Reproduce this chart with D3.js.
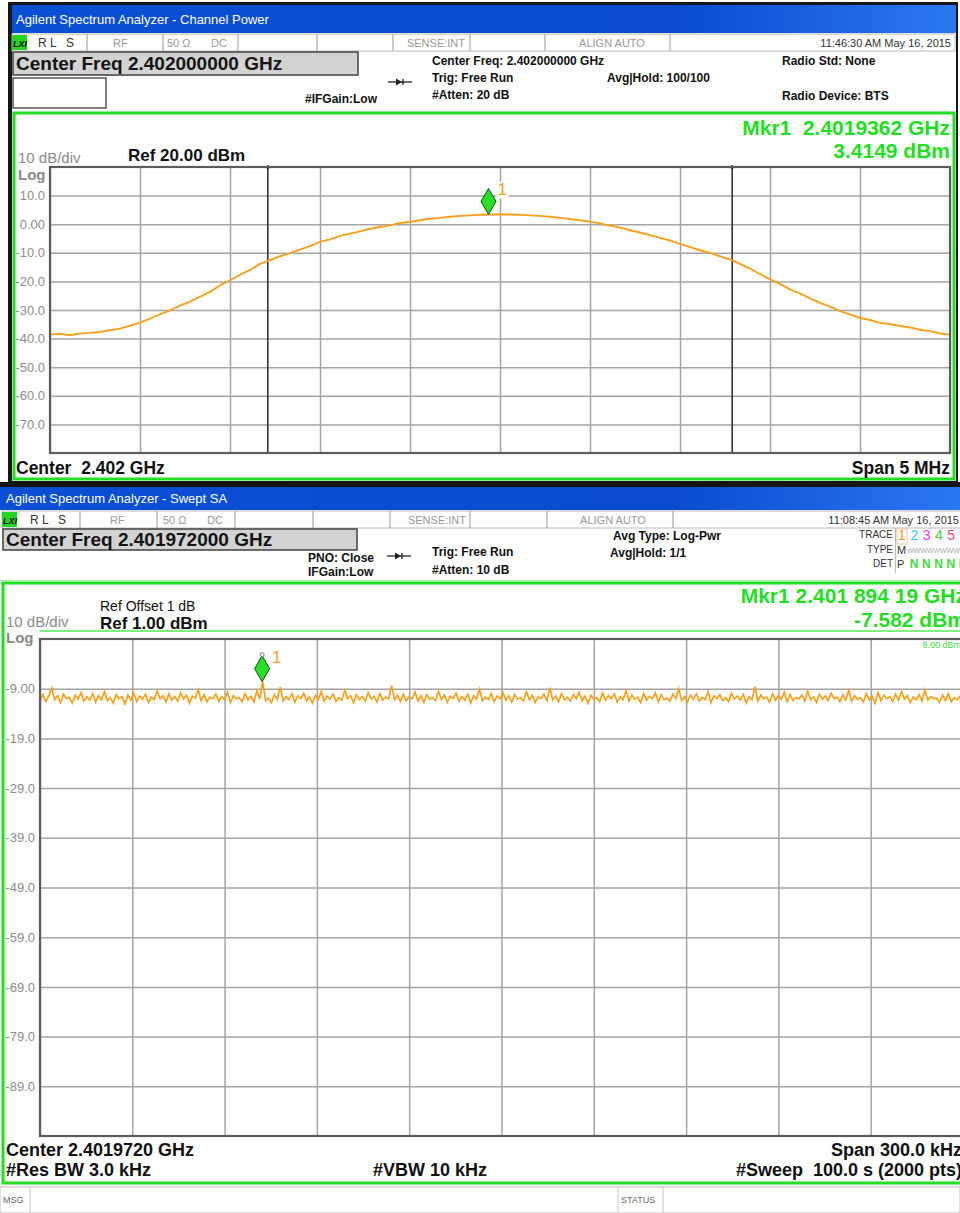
<!DOCTYPE html>
<html><head><meta charset="utf-8">
<script src="https://cdn.jsdelivr.net/npm/d3@7"></script>
<style>
body{margin:0;background:#fff}
svg{display:block}
text{font-family:"Liberation Sans",Arial,sans-serif;white-space:pre}
</style>
</head><body>
<svg id="c" width="960" height="1213"></svg>
<script>
// ---------- Channel Power screen ----------
const cpTitle = "Agilent Spectrum Analyzer - Channel Power";
const cpTime = "11:46:30 AM May 16, 2015";
const cpCenterGHz = 2.402;
const cpSpanMHz = 5;
const cpRange = [-80, 20];                 // dBm, bottom .. Ref
const cpYTicks = [10, 0, -10, -20, -30, -40, -50, -60, -70];
const cpYTickLabels = ["10.0","0.00","-10.0","-20.0","-30.0","-40.0","-50.0","-60.0","-70.0"];
const cpIntegBwMHz = 2.58;
const cpTrace = [
 -38.6,-38.3,-38.8,-38.2,-38.0,-37.7,-37.1,-36.5,-35.5,-34.4,
 -33.0,-31.5,-30.1,-28.5,-27.1,-25.3,-23.7,-21.4,-19.6,-17.7,
 -16.0,-13.9,-12.6,-11.2,-10.1,-8.9,-7.7,-6.2,-5.3,-4.1,
 -3.3,-2.5,-1.6,-1.0,-0.4,0.4,0.8,1.4,1.9,2.2,
 2.6,2.9,3.1,3.3,3.4,3.5,3.4,3.3,3.1,2.9,
 2.6,2.2,1.8,1.4,0.9,0.3,-0.5,-1.2,-2.1,-2.9,
 -3.8,-4.8,-5.7,-6.9,-8.0,-9.1,-10.0,-11.2,-12.3,-13.9,
 -15.5,-17.4,-19.3,-20.9,-22.8,-24.2,-25.9,-27.5,-28.8,-30.4,
 -31.5,-32.8,-33.5,-34.5,-34.9,-35.6,-36.1,-36.9,-37.4,-38.2,
 -38.6];
const cpMarkerGHz = 2.4019362;
const cpMarkerDbm = 3.4149;

// ---------- Swept SA screen ----------
const saTitle = "Agilent Spectrum Analyzer - Swept SA";
const saTime = "11:08:45 AM May 16, 2015";
const saCenterGHz = 2.401972;
const saSpanKHz = 300;
const saRange = [-99, 1];
const saYTicks = [-9, -19, -29, -39, -49, -59, -69, -79, -89];
const saYTickLabels = ["-9.00","-19.0","-29.0","-39.0","-49.0","-59.0","-69.0","-79.0","-89.0"];
const saTrace = [
 -11.3,-10.2,-11.6,-10.5,-8.9,-11.2,-10.4,-11.8,-10.1,-11.0,-10.7,-11.9,-10.3,-11.1,-9.8,-11.5,-10.6,-11.3,-10.0,-11.7,
 -10.4,-11.2,-9.6,-11.4,-10.8,-11.9,-10.2,-11.0,-10.6,-12.1,-10.3,-11.3,-9.9,-11.6,-10.5,-11.1,-10.1,-11.8,-10.7,-11.2,
 -9.5,-11.0,-10.4,-11.7,-10.0,-11.3,-10.6,-11.5,-9.8,-11.1,-10.3,-11.9,-10.5,-10.9,-9.2,-11.4,-10.2,-11.6,-10.7,-11.0,
 -10.1,-11.5,-10.6,-11.2,-9.7,-11.8,-10.4,-11.0,-10.8,-11.6,-10.0,-11.3,-10.5,-11.7,-9.4,-11.1,-7.6,-11.4,-10.9,-11.8,
 -10.2,-11.1,-8.7,-11.5,-10.6,-11.2,-10.0,-11.7,-10.4,-11.0,-9.9,-11.4,-10.7,-11.9,-10.3,-11.2,-9.6,-11.5,-10.5,-11.1,
 -10.1,-11.6,-10.8,-11.3,-9.3,-11.0,-10.4,-11.8,-10.2,-11.2,-10.6,-11.5,-9.8,-11.1,-10.5,-11.7,-10.0,-11.3,-10.7,-11.0,
 -8.4,-11.2,-10.3,-11.6,-10.1,-11.4,-10.6,-11.0,-9.7,-11.5,-10.4,-11.8,-10.2,-11.1,-10.8,-11.4,-9.5,-11.2,-10.3,-11.7,
 -10.5,-11.0,-9.9,-11.5,-10.6,-11.3,-10.1,-11.9,-10.4,-11.1,-9.1,-11.4,-10.7,-11.2,-10.0,-11.6,-10.5,-11.0,-9.8,-11.3,
 -10.4,-11.7,-10.2,-11.1,-10.8,-11.5,-9.6,-11.2,-10.3,-11.8,-10.6,-11.0,-10.1,-11.4,-8.8,-11.3,-10.5,-11.6,-10.0,-11.2,
 -10.7,-11.5,-10.2,-11.0,-9.7,-11.4,-10.5,-11.9,-10.3,-11.1,-10.8,-11.6,-9.9,-11.3,-10.4,-11.0,-10.1,-11.7,-10.6,-11.2,
 -9.4,-11.5,-10.3,-11.1,-10.7,-11.8,-10.0,-11.3,-10.5,-11.0,-9.8,-11.6,-10.2,-11.2,-10.9,-11.5,-10.1,-11.0,-9.0,-11.4,
 -10.6,-11.7,-10.3,-11.1,-10.0,-11.5,-10.7,-11.2,-9.6,-11.8,-10.4,-11.0,-10.2,-11.4,-10.8,-11.6,-9.9,-11.1,-10.5,-11.3,
 -10.1,-11.9,-10.6,-11.2,-8.6,-11.5,-10.3,-11.0,-10.7,-11.7,-10.0,-11.3,-10.4,-11.1,-9.7,-11.6,-10.2,-11.4,-10.8,-11.0,
 -10.3,-11.5,-9.5,-11.2,-10.6,-11.8,-10.1,-11.1,-10.5,-11.4,-9.9,-11.0,-10.7,-11.6,-10.2,-11.3,-9.3,-11.5,-10.4,-11.1,
 -10.8,-11.7,-10.0,-11.2,-10.5,-11.9,-9.8,-11.4,-10.3,-11.0,-10.6,-11.6,-10.1,-11.3,-9.6,-11.1,-10.4,-11.8,-10.7,-11.2,
 -10.2,-11.5,-9.2,-11.3,-10.6,-11.0,-10.9,-11.7,-10.3,-11.4,-10.0,-11.6,-10.8,-11.2,-10.5,-11.9];
const saMarkerGHz = 2.40189419;
const saMarkerDbm = -7.582;
const traceNumbers = ["1","2","3","4","5","6"];
const traceColors = ["#f39a1c","#35c8f5","#e63ee6","#3fcf3f","#f2486e","#9a5cf0"];

// ---------- shared styles ----------
const GREEN = "#1fe01f";
const ORANGE = "#f7a01c";
const GRID = "#a4a4a4";
const svg = d3.select("#c");

const defs = svg.append("defs");
const grad = defs.append("linearGradient").attr("id","xpBlue").attr("x1",0).attr("x2",1).attr("y1",0).attr("y2",0);
grad.append("stop").attr("offset","0%").attr("stop-color","#0b4fd4");
grad.append("stop").attr("offset","70%").attr("stop-color","#0a4bd0");
grad.append("stop").attr("offset","100%").attr("stop-color","#2a78f4");

function txt(g, x, y, s, o = {}) {
  return g.append("text").attr("x", x).attr("y", y).text(s)
    .attr("font-size", o.size || 12)
    .attr("font-weight", o.weight || "normal")
    .attr("font-style", o.style || "normal")
    .attr("fill", o.fill || "#111")
    .attr("text-anchor", o.anchor || "start");
}

function arrowIcon(g, x, y) {
  g.append("line").attr("x1", x).attr("x2", x + 24).attr("y1", y).attr("y2", y)
    .attr("stroke", "#222").attr("stroke-width", 1.3);
  g.append("path").attr("d", `M${x+8},${y-3.5} L${x+14},${y} L${x+8},${y+3.5} Z`).attr("fill", "#222");
  g.append("line").attr("x1", x + 15).attr("x2", x + 15).attr("y1", y - 3).attr("y2", y + 3)
    .attr("stroke", "#222").attr("stroke-width", 1.3);
}

function statusRow(g, x0, x1, y0, y1, seps, items) {
  g.append("rect").attr("x", x0).attr("y", y0).attr("width", x1 - x0).attr("height", y1 - y0)
    .attr("fill", "#fff").attr("stroke", "#b8b8b8").attr("stroke-width", 1);
  seps.forEach(s => g.append("line").attr("x1", s).attr("x2", s).attr("y1", y0).attr("y2", y1)
    .attr("stroke", "#a8a8a8").attr("stroke-width", 1.2));
  // LXI badge
  g.append("rect").attr("x", x0).attr("y", y0 + 1).attr("width", 15).attr("height", y1 - y0 - 2).attr("fill", "#22d622");
  txt(g, x0 + 1, y1 - 4, "LXI", {size: 9, weight: "bold", style: "italic", fill: "#111"});
  items.forEach(it => txt(g, it[0], y1 - 4, it[1], {size: it[2] || 11, fill: it[3] || "#9a9a9a", anchor: it[4] || "start"}));
}

function gridAndAxes(g, x, y, xDivs, yTicks, yLabels, labelRight) {
  const [x0, x1] = x.range(), [yb, yt] = y.range();
  g.append("rect").attr("x", x0).attr("y", yt).attr("width", x1 - x0).attr("height", yb - yt).attr("fill", "#fff");
  const gx = g.append("g").attr("transform", `translate(0,${yb})`)
    .call(d3.axisBottom(x).tickValues(xDivs).tickSize(-(yb - yt)).tickFormat(""));
  gx.select(".domain").remove();
  gx.selectAll("line").attr("stroke", GRID).attr("stroke-width", 1.5);
  const gy = g.append("g").attr("transform", `translate(${x0},0)`)
    .call(d3.axisLeft(y).tickValues(yTicks).tickSize(-(x1 - x0)).tickPadding(x0 - labelRight)
      .tickFormat((d, i) => yLabels[i]));
  gy.select(".domain").remove();
  gy.selectAll("line").attr("stroke", GRID).attr("stroke-width", 1.5);
  gy.selectAll("text").attr("font-family", '"Liberation Sans",Arial,sans-serif')
    .attr("font-size", 13).attr("fill", "#8c8c8c");
}

function plotBorder(g, x, y) {
  const [x0, x1] = x.range(), [yb, yt] = y.range();
  g.append("rect").attr("x", x0).attr("y", yt).attr("width", x1 - x0).attr("height", yb - yt)
    .attr("fill", "none").attr("stroke", "#5c5c5c").attr("stroke-width", 2.2);
}

function markerGlyph(g, mx, my, labelDx, dot) {
  g.append("path").attr("d", `M${mx},${my} L${mx+7.5},${my-13} L${mx},${my-26} L${mx-7.5},${my-13} Z`)
    .attr("fill", "#27e027").attr("stroke", "#0c520c").attr("stroke-width", 1);
  if (dot) g.append("circle").attr("cx", mx).attr("cy", my - 27).attr("r", 2)
    .attr("fill", "#fff").attr("stroke", "#777").attr("stroke-width", 1);
  txt(g, mx + labelDx, my - 19, "1", {size: 17, fill: ORANGE});
}

// ================= Channel Power window =================
const cpWin = svg.append("g");
cpWin.append("rect").attr("x", 8).attr("y", 2).attr("width", 950).attr("height", 482).attr("fill", "#161616");
cpWin.append("rect").attr("x", 12).attr("y", 33).attr("width", 944).attr("height", 448).attr("fill", "#fff");
cpWin.append("rect").attr("x", 12).attr("y", 5).attr("width", 944).attr("height", 28).attr("fill", "url(#xpBlue)");
txt(cpWin, 16, 24, cpTitle, {size: 13, fill: "#fff"});

statusRow(cpWin, 12, 955, 34, 51, [87, 163, 238, 317, 393, 470, 545, 670], [
  [38, "R L", 12, "#333"], [66, "S", 12, "#333"], [113, "RF"], [167, "50 Ω"], [211, "DC"],
  [465, "SENSE:INT", 11, "#999", "end"], [612, "ALIGN AUTO", 11, "#999", "middle"],
  [951, cpTime, 11, "#333", "end"]
]);

cpWin.append("rect").attr("x", 13).attr("y", 52).attr("width", 345).attr("height", 23)
  .attr("fill", "#d3d3d3").attr("stroke", "#4a4a4a").attr("stroke-width", 1.6);
txt(cpWin, 16, 70, "Center Freq 2.402000000 GHz", {size: 19, weight: "bold", fill: "#151515"});
cpWin.append("rect").attr("x", 13).attr("y", 78).attr("width", 93).attr("height", 30)
  .attr("fill", "#fff").attr("stroke", "#4a4a4a").attr("stroke-width", 1.4);

txt(cpWin, 305, 103, "#IFGain:Low", {size: 12, weight: "bold"});
arrowIcon(cpWin, 388, 82);
txt(cpWin, 432, 65, "Center Freq: 2.402000000 GHz", {size: 12, weight: "bold"});
txt(cpWin, 432, 82, "Trig: Free Run", {size: 12, weight: "bold"});
txt(cpWin, 432, 99, "#Atten: 20 dB", {size: 12, weight: "bold"});
txt(cpWin, 607, 82, "Avg|Hold: 100/100", {size: 12, weight: "bold"});
txt(cpWin, 782, 65, "Radio Std: None", {size: 12, weight: "bold"});
txt(cpWin, 782, 100, "Radio Device: BTS", {size: 12, weight: "bold"});

cpWin.append("rect").attr("x", 14).attr("y", 113).attr("width", 940).attr("height", 366)
  .attr("fill", "none").attr("stroke", GREEN).attr("stroke-width", 3);

txt(cpWin, 950, 135, "Mkr1  2.4019362 GHz", {size: 21, weight: "bold", fill: GREEN, anchor: "end"});
txt(cpWin, 950, 158, "3.4149 dBm", {size: 21, weight: "bold", fill: GREEN, anchor: "end"});
txt(cpWin, 18, 163, "10 dB/div", {size: 15, fill: "#8a8a8a"});
txt(cpWin, 18, 180, "Log", {size: 15, weight: "bold", fill: "#8a8a8a"});
txt(cpWin, 128, 161, "Ref 20.00 dBm", {size: 17, weight: "bold", fill: "#111"});

const cpX = d3.scaleLinear().domain([-cpSpanMHz / 2, cpSpanMHz / 2]).range([50, 950]);
const cpY = d3.scaleLinear().domain(cpRange).range([453, 167]);
gridAndAxes(cpWin, cpX, cpY, d3.range(-2.5, 2.51, 0.5), cpYTicks, cpYTickLabels, 45);

// integration bandwidth edges
[-cpIntegBwMHz / 2, cpIntegBwMHz / 2].forEach(f => {
  cpWin.append("line").attr("x1", cpX(f)).attr("x2", cpX(f)).attr("y1", cpY(20)).attr("y2", cpY(-80))
    .attr("stroke", "#333").attr("stroke-width", 1.6);
  cpWin.append("circle").attr("cx", cpX(f)).attr("cy", cpY(20)).attr("r", 1.8).attr("fill", "#222");
});

const cpFreq = i => -cpSpanMHz / 2 + i * cpSpanMHz / (cpTrace.length - 1);
cpWin.append("path").datum(cpTrace)
  .attr("d", d3.line().x((d, i) => cpX(cpFreq(i))).y(d => cpY(d)))
  .attr("fill", "none").attr("stroke", ORANGE).attr("stroke-width", 1.9);
plotBorder(cpWin, cpX, cpY);

const cpMx = cpX((cpMarkerGHz - cpCenterGHz) * 1000), cpMy = cpY(cpMarkerDbm);
cpWin.append("rect").attr("x", cpMx + 8).attr("y", cpMy - 33).attr("width", 12).attr("height", 17).attr("fill", "#fff");
markerGlyph(cpWin, cpMx, cpMy, 9, false);

txt(cpWin, 16, 474, "Center  2.402 GHz", {size: 17.5, weight: "bold"});
txt(cpWin, 950, 474, "Span 5 MHz", {size: 17.5, weight: "bold", anchor: "end"});

// ================= Swept SA window =================
const saWin = svg.append("g");
saWin.append("rect").attr("x", 0).attr("y", 482).attr("width", 960).attr("height", 6).attr("fill", "#161616");
saWin.append("rect").attr("x", 0).attr("y", 487).attr("width", 960).attr("height", 23).attr("fill", "url(#xpBlue)");
txt(saWin, 6, 503, saTitle, {size: 13, fill: "#fff"});

statusRow(saWin, 2, 965, 511, 528, [80, 157, 235, 313, 390, 470, 547, 673], [
  [30, "R L", 12, "#333"], [58, "S", 12, "#333"], [110, "RF"], [163, "50 Ω"], [207, "DC"],
  [466, "SENSE:INT", 11, "#999", "end"], [613, "ALIGN AUTO", 11, "#999", "middle"],
  [959, saTime, 11, "#333", "end"]
]);

saWin.append("rect").attr("x", 3).attr("y", 529).attr("width", 354).attr("height", 21)
  .attr("fill", "#d3d3d3").attr("stroke", "#4a4a4a").attr("stroke-width", 1.6);
txt(saWin, 6, 546, "Center Freq 2.401972000 GHz", {size: 19, weight: "bold", fill: "#151515"});

txt(saWin, 308, 562, "PNO: Close", {size: 12, weight: "bold"});
txt(saWin, 308, 576, "IFGain:Low", {size: 12, weight: "bold"});
arrowIcon(saWin, 387, 556);
txt(saWin, 432, 556, "Trig: Free Run", {size: 12, weight: "bold"});
txt(saWin, 432, 574, "#Atten: 10 dB", {size: 12, weight: "bold"});
txt(saWin, 613, 540, "Avg Type: Log-Pwr", {size: 12, weight: "bold"});
txt(saWin, 610, 557, "Avg|Hold: 1/1", {size: 12, weight: "bold"});

// trace / type / detector table
txt(saWin, 893, 538, "TRACE", {size: 10, fill: "#333", anchor: "end"});
txt(saWin, 893, 553, "TYPE", {size: 10, fill: "#333", anchor: "end"});
txt(saWin, 893, 567, "DET", {size: 10, fill: "#333", anchor: "end"});
saWin.append("line").attr("x1", 895.5).attr("x2", 895.5).attr("y1", 528).attr("y2", 573).attr("stroke", "#bbb").attr("stroke-width", 1.2);
saWin.append("rect").attr("x", 897).attr("y", 529).attr("width", 10).attr("height", 15)
  .attr("fill", "none").attr("stroke", "#e8c9a0").attr("stroke-width", 1);
traceNumbers.forEach((n, i) => txt(saWin, 902 + i * 12.3, 540, n, {size: 14, fill: traceColors[i], anchor: "middle"}));
txt(saWin, 897, 554, "M", {size: 11, fill: "#333"});
txt(saWin, 907, 553, "WWWWWWWWWW", {size: 7, fill: "#aaa"});
txt(saWin, 897, 568, "P", {size: 11, fill: "#333"});
["N","N","N","N","N"].forEach((n, i) => txt(saWin, 914 + i * 12.3, 568, n, {size: 12, weight: "bold", fill: "#3fd83f", anchor: "middle"}));

saWin.append("line").attr("x1", 0).attr("x2", 960).attr("y1", 580.5).attr("y2", 580.5).attr("stroke", "#b5f0b5").attr("stroke-width", 1);
saWin.append("rect").attr("x", 3).attr("y", 583).attr("width", 980).attr("height", 600)
  .attr("fill", "none").attr("stroke", GREEN).attr("stroke-width", 3);
saWin.append("line").attr("x1", 40).attr("x2", 960).attr("y1", 631).attr("y2", 631).attr("stroke", "#7ef07e").attr("stroke-width", 2);

txt(saWin, 966, 603, "Mkr1 2.401 894 19 GHz", {size: 21, weight: "bold", fill: GREEN, anchor: "end"});
txt(saWin, 966, 627, "-7.582 dBm", {size: 21, weight: "bold", fill: GREEN, anchor: "end"});
txt(saWin, 100, 611, "Ref Offset 1 dB", {size: 14, fill: "#111"});
txt(saWin, 100, 629, "Ref 1.00 dBm", {size: 17, weight: "bold", fill: "#111"});
txt(saWin, 6, 627, "10 dB/div", {size: 15, fill: "#8a8a8a"});
txt(saWin, 6, 643, "Log", {size: 15, weight: "bold", fill: "#8a8a8a"});

const saX = d3.scaleLinear().domain([-saSpanKHz / 2, saSpanKHz / 2]).range([40, 963]);
const saY = d3.scaleLinear().domain(saRange).range([1136, 639]);
gridAndAxes(saWin, saX, saY, d3.range(-150, 151, 30), saYTicks, saYTickLabels, 35);
txt(saWin, 961, 648, "8.00 dBm", {size: 9, fill: "#49d849", anchor: "end"});

const saFreq = i => -saSpanKHz / 2 + i * saSpanKHz / (saTrace.length - 1);
saWin.append("path").datum(saTrace)
  .attr("d", d3.line().x((d, i) => saX(saFreq(i))).y(d => saY(d)))
  .attr("fill", "none").attr("stroke", ORANGE).attr("stroke-width", 1.7);
plotBorder(saWin, saX, saY);

const saMx = saX((saMarkerGHz - saCenterGHz) * 1e6), saMy = saY(saMarkerDbm);
markerGlyph(saWin, saMx, saMy, 10, true);

txt(saWin, 6, 1156, "Center 2.4019720 GHz", {size: 18, weight: "bold"});
txt(saWin, 962, 1156, "Span 300.0 kHz", {size: 18, weight: "bold", anchor: "end"});
txt(saWin, 6, 1176, "#Res BW 3.0 kHz", {size: 18, weight: "bold"});
txt(saWin, 373, 1176, "#VBW 10 kHz", {size: 18, weight: "bold"});
txt(saWin, 962, 1176, "#Sweep  100.0 s (2000 pts)", {size: 18, weight: "bold", anchor: "end"});

// message / status bar
saWin.append("rect").attr("x", 0).attr("y", 1187).attr("width", 960).attr("height", 26)
  .attr("fill", "#fff").attr("stroke", "#bdbdbd").attr("stroke-width", 1);
[30, 618, 663].forEach(s => saWin.append("line").attr("x1", s).attr("x2", s).attr("y1", 1187).attr("y2", 1213)
  .attr("stroke", "#c4c4c4").attr("stroke-width", 1));
txt(saWin, 3, 1203, "MSG", {size: 9, fill: "#666"});
txt(saWin, 621, 1203, "STATUS", {size: 9, fill: "#666"});
</script>
</body></html>
